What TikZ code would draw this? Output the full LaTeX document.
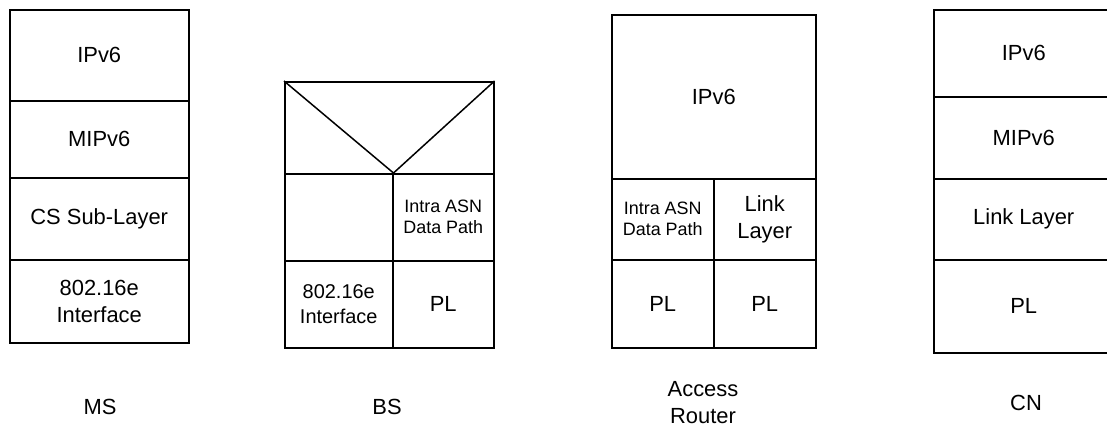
\documentclass[tikz,border=0pt]{standalone}
\usepackage{fontspec}
\setmainfont{Liberation Sans}
\begin{document}
\begin{tikzpicture}[x=1bp,y=-1bp,line width=1.5bp,
  every node/.style={font=\fontsize{22}{27}\selectfont,align=center},
  cell/.style={draw,rectangle,inner sep=0pt,anchor=north west},
  small/.style={font=\fontsize{18}{21}\selectfont}]
\clip (0,0) rectangle (1107,428);
% MS stack
\node[cell,minimum width=179bp,minimum height=91bp] (msip) at (9,9) {IPv6};
\node[cell,minimum width=179bp,minimum height=77bp] (msmip) at (9,100) {MIPv6};
\node[cell,minimum width=179bp,minimum height=82bp] (mscs) at (9,177) {CS Sub-Layer};
\node[cell,minimum width=179bp,minimum height=83bp] (msif) at (9,259) {802.16e\\Interface};
% BS stack
\node[cell,minimum width=209bp,minimum height=92bp] (bstop) at (284,81) {};
\node[cell,minimum width=108bp,minimum height=87bp] (bsleft) at (284,173) {};
\node[cell,minimum width=101bp,minimum height=87bp,small] (bsdp) at (392,173) {Intra ASN\\Data Path};
\node[cell,minimum width=108bp,minimum height=87bp,font=\fontsize{20}{25}\selectfont] (bsif) at (284,260) {802.16e\\Interface};
\node[cell,minimum width=101bp,minimum height=87bp] (bspl) at (392,260) {PL};
\draw (bstop.north west) -- (bsleft.north east) -- (bstop.north east);
% Access Router stack
\node[cell,minimum width=204bp,minimum height=164bp] (arip) at (611,14) {IPv6};
\node[cell,minimum width=102bp,minimum height=81bp,small] (ardp) at (611,178) {Intra ASN\\Data Path};
\node[cell,minimum width=102bp,minimum height=81bp] (arll) at (713,178) {Link\\Layer};
\node[cell,minimum width=102bp,minimum height=88bp] (arpla) at (611,259) {PL};
\node[cell,minimum width=102bp,minimum height=88bp] (arplb) at (713,259) {PL};
% CN stack
\node[cell,minimum width=180bp,minimum height=87bp] (cnip) at (933,9) {IPv6};
\node[cell,minimum width=180bp,minimum height=82bp] (cnmip) at (933,96) {MIPv6};
\node[cell,minimum width=180bp,minimum height=81bp] (cnll) at (933,178) {Link Layer};
\node[cell,minimum width=180bp,minimum height=93bp] (cnpl) at (933,259) {PL};
% names under the stacks
\node (ms) at (100,407) {MS};
\node (bs) at (387,407) {BS};
\node (ar) at (703,403) {Access\\Router};
\node (cn) at (1026,403) {CN};
\end{tikzpicture}
\end{document}
